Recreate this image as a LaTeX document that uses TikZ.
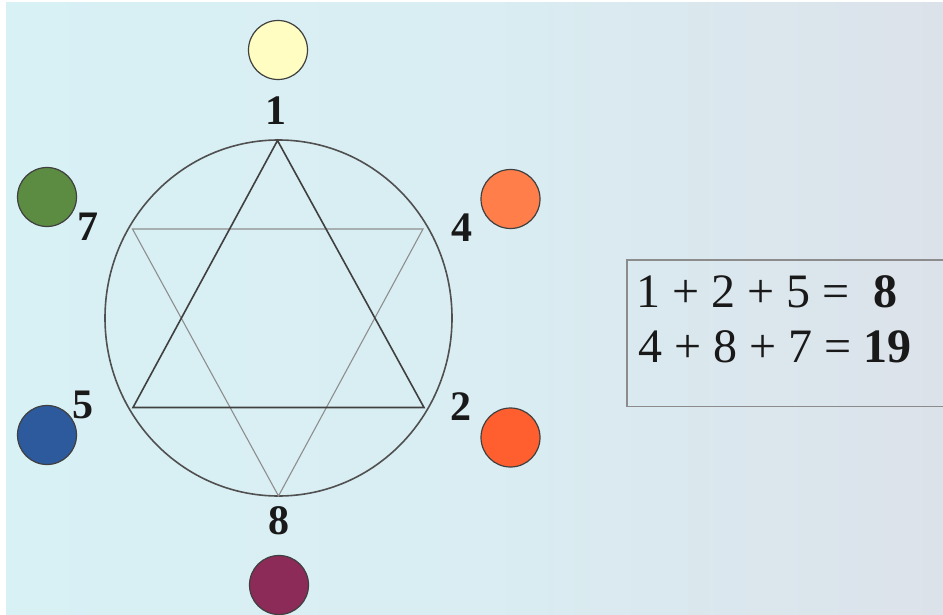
\documentclass[tikz,border=0pt]{standalone}
\usepackage{fontspec}
\setmainfont{Liberation Serif}
\definecolor{bgcyan}{HTML}{D8F1F5}
\definecolor{bggray}{HTML}{DCE2EA}
\definecolor{cyellow}{HTML}{FFFDC2}
\definecolor{corange}{HTML}{FF7E4A}
\definecolor{cred}{HTML}{FF5F2E}
\definecolor{cgreen}{HTML}{5B8C42}
\definecolor{cblue}{HTML}{2D5A9C}
\definecolor{cpurple}{HTML}{8C2A58}
\definecolor{ringc}{HTML}{505050}
\definecolor{lightc}{HTML}{8E8E8E}
\tikzset{
  dot/.style={circle, draw=black!75, line width=1.2pt, minimum size=59pt, inner sep=0pt},
  numlabel/.style={font=\fontsize{42}{42}\selectfont\bfseries, text=black!90, inner sep=0pt},
  sumtext/.style={font=\fontsize{48}{48}\selectfont, text=black!90, inner sep=0pt, anchor=base west},
}
\begin{document}
\begin{tikzpicture}[x=1pt,y=-1pt]
\useasboundingbox (0,0) rectangle (943,615);
\fill[white] (0,0) rectangle (943,615);
\shade[left color=bgcyan, right color=bggray, middle color=bgcyan!75!bggray] (6,3) rectangle (943,615);
% ring and hexagram
\coordinate (c) at (278.5,318);
\draw[ringc, line width=1.6pt] (c) ellipse [x radius=173.5, y radius=178];
\coordinate (v1) at (277.5,140.5);
\coordinate (v2) at (424,407.5);
\coordinate (v5) at (133,407.5);
\coordinate (v7) at (132.5,229);
\coordinate (v4) at (423,229);
\coordinate (v8) at (278.5,496);
\draw[lightc, line width=1.1pt] (v7) -- (v4) -- (v8) -- cycle;
\draw[black!75, line width=1.6pt] (v1) -- (v2) -- (v5) -- cycle;
% number labels
\node[numlabel] (l1) at (276,111) {1};
\node[numlabel] (l4) at (462,228) {4};
\node[numlabel] (l7) at (88,227) {7};
\node[numlabel] (l5) at (83,405) {5};
\node[numlabel] (l2) at (461,407) {2};
\node[numlabel] (l8) at (279,521) {8};
% colour dots
\node[dot, fill=cyellow] (d1) at (278,50) {};
\node[dot, fill=corange] (d4) at (510.5,199) {};
\node[dot, fill=cgreen] (d7) at (47,197) {};
\node[dot, fill=cblue] (d5) at (47,435) {};
\node[dot, fill=cred] (d2) at (510.5,437.5) {};
\node[dot, fill=cpurple] (d8) at (279,585) {};
% sums box
\draw[black!45, line width=1.6pt] (950,260) -- (627,260) -- (627,406.5) -- (950,406.5);
\node[sumtext] (s1) at (636,307) {1 + 2 + 5 =\ \ \textbf{8}};
\node[sumtext] (s2) at (638,362) {4 + 8 + 7 = \textbf{19}};
\end{tikzpicture}
\end{document}
